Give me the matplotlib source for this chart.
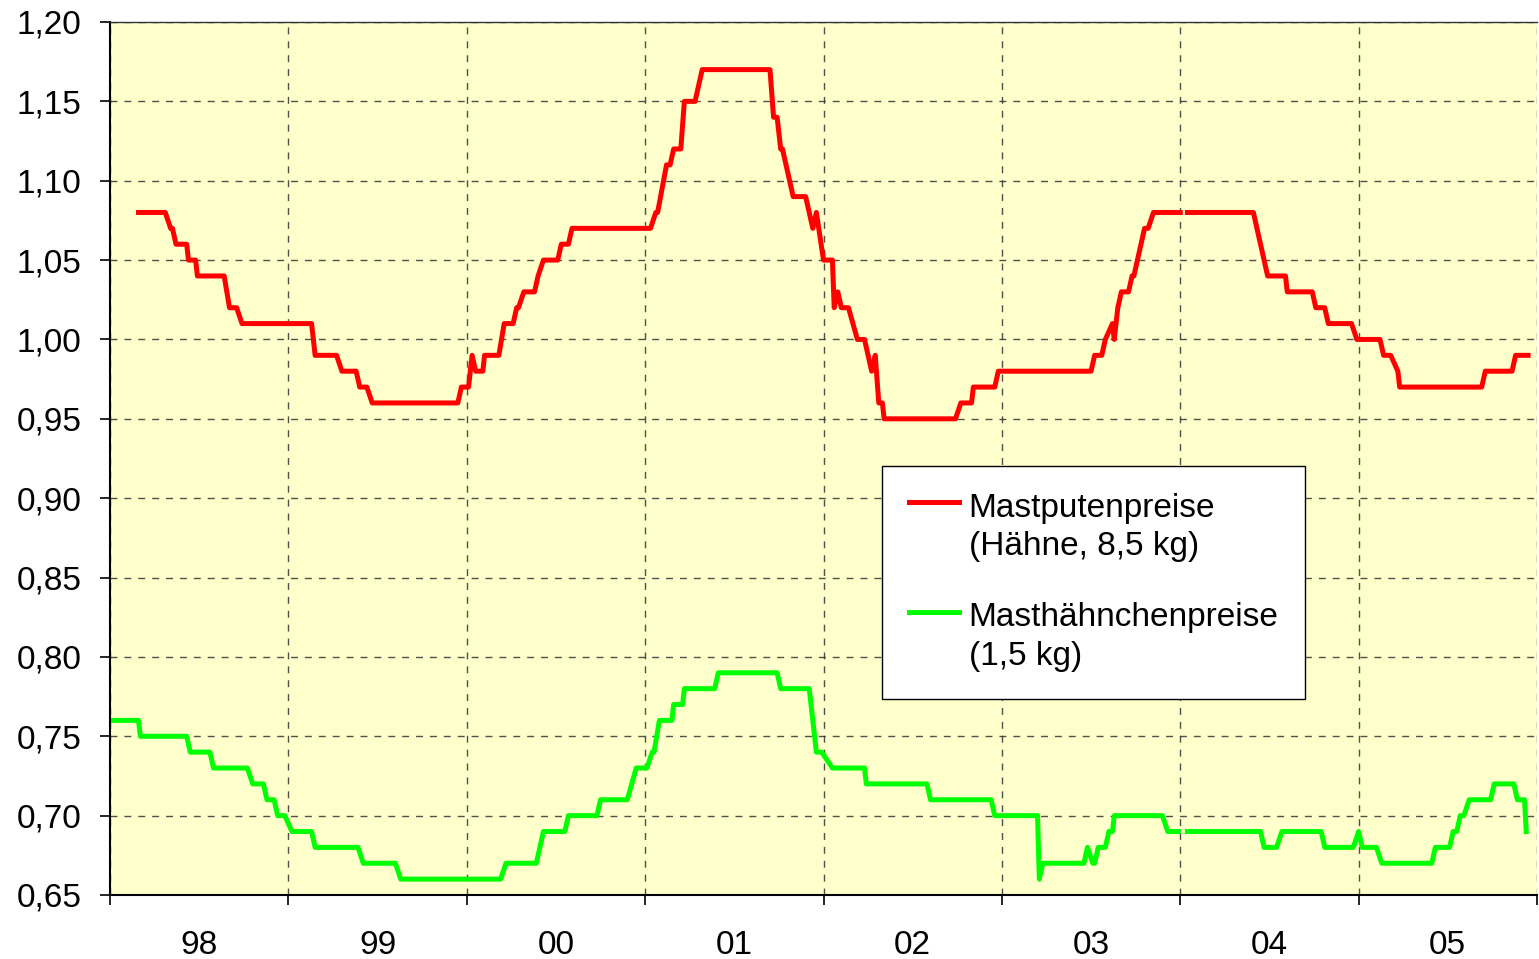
import matplotlib
matplotlib.use("Agg")
import matplotlib.pyplot as plt
from matplotlib.ticker import FixedLocator, FuncFormatter, MultipleLocator
from matplotlib.legend_handler import HandlerLine2D
import numpy as np

plt.rcParams["font.family"] = ["Liberation Sans", "DejaVu Sans"]

#DATA (weekly prices; nan = missing week)
puten_x = [1998.16, 1998.31, 1998.34, 1998.35, 1998.37, 1998.43, 1998.44, 1998.48, 1998.49, 1998.64,
           1998.67, 1998.71, 1998.74, 1999.13, 1999.15, 1999.27, 1999.30, 1999.38, 1999.40, 1999.44,
           1999.47, 1999.95, 1999.97, 2000.01, 2000.03, 2000.05, 2000.09, 2000.10, 2000.18, 2000.21,
           2000.26, 2000.28, 2000.29, 2000.32, 2000.38, 2000.40, 2000.43, 2000.51, 2000.53, 2000.57,
           2000.59, 2001.03, 2001.06, 2001.07, 2001.12, 2001.14, 2001.16, 2001.20, 2001.22, 2001.28,
           2001.32, 2001.70, 2001.72, 2001.74, 2001.76, 2001.77, 2001.83, 2001.90, 2001.94, 2001.96,
           2002.00, 2002.05, 2002.06, 2002.08, 2002.10, 2002.14, 2002.19, 2002.23, 2002.27, 2002.29,
           2002.31, 2002.33, 2002.34, 2002.74, 2002.77, 2002.83, 2002.84, 2002.96, 2002.98, 2003.50,
           2003.52, 2003.56, 2003.58, 2003.62, 2003.63, 2003.65, 2003.67, 2003.71, 2003.73, 2003.74,
           2003.80, 2003.82, 2003.85, 2004.00, 2004.02, 2004.04, 2004.41, 2004.49, 2004.59, 2004.60,
           2004.74, 2004.76, 2004.81, 2004.83, 2004.96, 2004.99, 2005.12, 2005.14, 2005.18, 2005.22,
           2005.23, 2005.69, 2005.71, 2005.86, 2005.88, 2005.95]
puten_y = [1.08, 1.08, 1.07, 1.07, 1.06, 1.06, 1.05, 1.05, 1.04, 1.04,
           1.02, 1.02, 1.01, 1.01, 0.99, 0.99, 0.98, 0.98, 0.97, 0.97,
           0.96, 0.96, 0.97, 0.97, 0.99, 0.98, 0.98, 0.99, 0.99, 1.01,
           1.01, 1.02, 1.02, 1.03, 1.03, 1.04, 1.05, 1.05, 1.06, 1.06,
           1.07, 1.07, 1.08, 1.08, 1.11, 1.11, 1.12, 1.12, 1.15, 1.15,
           1.17, 1.17, 1.14, 1.14, 1.12, 1.12, 1.09, 1.09, 1.07, 1.08,
           1.05, 1.05, 1.02, 1.03, 1.02, 1.02, 1.00, 1.00, 0.98, 0.99,
           0.96, 0.96, 0.95, 0.95, 0.96, 0.96, 0.97, 0.97, 0.98, 0.98,
           0.99, 0.99, 1.00, 1.01, 1.00, 1.02, 1.03, 1.03, 1.04, 1.04,
           1.07, 1.07, 1.08, 1.08, np.nan, 1.08, 1.08, 1.04, 1.04, 1.03,
           1.03, 1.02, 1.02, 1.01, 1.01, 1.00, 1.00, 0.99, 0.99, 0.98,
           0.97, 0.97, 0.98, 0.98, 0.99, 0.99]

haehnchen_x = [1998.01, 1998.16, 1998.17, 1998.43, 1998.45, 1998.56, 1998.58, 1998.77, 1998.80, 1998.86,
               1998.88, 1998.92, 1998.94, 1998.98, 1999.02, 1999.13, 1999.15, 1999.39, 1999.42, 1999.60,
               1999.63, 2000.19, 2000.22, 2000.39, 2000.43, 2000.55, 2000.57, 2000.73, 2000.75, 2000.90,
               2000.95, 2001.01, 2001.04, 2001.05, 2001.08, 2001.15, 2001.16, 2001.21, 2001.22, 2001.39,
               2001.41, 2001.74, 2001.76, 2001.92, 2001.96, 2001.99, 2002.05, 2002.23, 2002.24, 2002.58,
               2002.60, 2002.94, 2002.96, 2003.20, 2003.21, 2003.23, 2003.46, 2003.48, 2003.51, 2003.52,
               2003.54, 2003.58, 2003.60, 2003.62, 2003.63, 2003.90, 2003.93, 2003.99, 2004.02, 2004.04,
               2004.45, 2004.47, 2004.54, 2004.57, 2004.79, 2004.81, 2004.97, 2005.00, 2005.02, 2005.10,
               2005.13, 2005.41, 2005.43, 2005.51, 2005.53, 2005.55, 2005.57, 2005.59, 2005.62, 2005.74,
               2005.76, 2005.87, 2005.89, 2005.93, 2005.94]
haehnchen_y = [0.76, 0.76, 0.75, 0.75, 0.74, 0.74, 0.73, 0.73, 0.72, 0.72,
               0.71, 0.71, 0.70, 0.70, 0.69, 0.69, 0.68, 0.68, 0.67, 0.67,
               0.66, 0.66, 0.67, 0.67, 0.69, 0.69, 0.70, 0.70, 0.71, 0.71,
               0.73, 0.73, 0.74, 0.74, 0.76, 0.76, 0.77, 0.77, 0.78, 0.78,
               0.79, 0.79, 0.78, 0.78, 0.74, 0.74, 0.73, 0.73, 0.72, 0.72,
               0.71, 0.71, 0.70, 0.70, 0.66, 0.67, 0.67, 0.68, 0.67, 0.67,
               0.68, 0.68, 0.69, 0.69, 0.70, 0.70, 0.69, 0.69, np.nan, 0.69,
               0.69, 0.68, 0.68, 0.69, 0.69, 0.68, 0.68, 0.69, 0.68, 0.68,
               0.67, 0.67, 0.68, 0.68, 0.69, 0.69, 0.70, 0.70, 0.71, 0.71,
               0.72, 0.72, 0.71, 0.71, 0.69]

year_labels = ["98", "99", "00", "01", "02", "03", "04", "05"]
label_puten = "Mastputenpreise\n(Hähne, 8,5 kg)"
label_haehnchen = "Masthähnchenpreise\n(1,5 kg)"


#HANDLE ON FIRST TEXT LINE
class TopLineHandler(HandlerLine2D):
    def create_artists(self, legend, orig_handle, xdescent, ydescent, width, height, fontsize, trans):
        artists = super().create_artists(legend, orig_handle, xdescent, ydescent, width, height, fontsize, trans)
        for a in artists:
            a.set_ydata(np.asarray(a.get_ydata()) + 0.78 * fontsize)
        return artists


fig = plt.figure(figsize=(15.39, 9.59), dpi=100)
ax = fig.add_axes([110 / 1539, 1 - 895 / 959, 1427 / 1539, 873 / 959])
ax.set_facecolor("#FFFFCC")

ax.plot(puten_x, puten_y, color="#FF0000", lw=3.6, label=label_puten, solid_joinstyle="round")
ax.plot(haehnchen_x, haehnchen_y, color="#00FF00", lw=3.6, label=label_haehnchen, solid_joinstyle="round")

ax.set_xlim(1998, 2006)
ax.set_ylim(0.65, 1.20)

#X AXIS: boundaries as major ticks, year labels centred
ax.xaxis.set_major_locator(FixedLocator(np.arange(1998, 2007)))
ax.xaxis.set_major_formatter(FuncFormatter(lambda v, p: ""))
ax.set_xticks(np.arange(1998, 2006) + 0.5, year_labels, minor=True)
ax.tick_params(axis="x", which="major", direction="out", length=7.5, width=1.2)
ax.tick_params(axis="x", which="minor", length=0, pad=25, labelsize=24)

#Y AXIS
ax.yaxis.set_major_locator(MultipleLocator(0.05))
ax.yaxis.set_major_formatter(FuncFormatter(lambda v, p: f"{v:.2f}".replace(".", ",")))
ax.tick_params(axis="y", direction="out", length=7.5, width=1.2, pad=13, labelsize=24)

ax.grid(True, which="major", color="#333333", linestyle=(0, (5, 5)), linewidth=1.0, alpha=0.85)
ax.spines["right"].set_visible(False)
ax.spines["top"].set_linewidth(1.0)
ax.spines["top"].set_color("#333333")
for s in ["left", "bottom"]:
    ax.spines[s].set_linewidth(1.5)
    ax.spines[s].set_color("black")

leg = ax.legend(loc="upper left", bbox_to_anchor=(772 / 1427, (895 - 466) / 873),
                borderaxespad=0, fontsize=24, frameon=True, fancybox=False, shadow=False,
                handlelength=1.5, handletextpad=0.3, borderpad=0.8, labelspacing=1.2,
                handler_map={plt.Line2D: TopLineHandler()})
for t in leg.get_texts():
    t.set_linespacing(1.32)
leg.get_frame().set_edgecolor("black")
leg.get_frame().set_linewidth(1.0)
leg.get_frame().set_facecolor("white")
leg.get_frame().set_alpha(1)

fig.savefig("out.png", dpi=100)
